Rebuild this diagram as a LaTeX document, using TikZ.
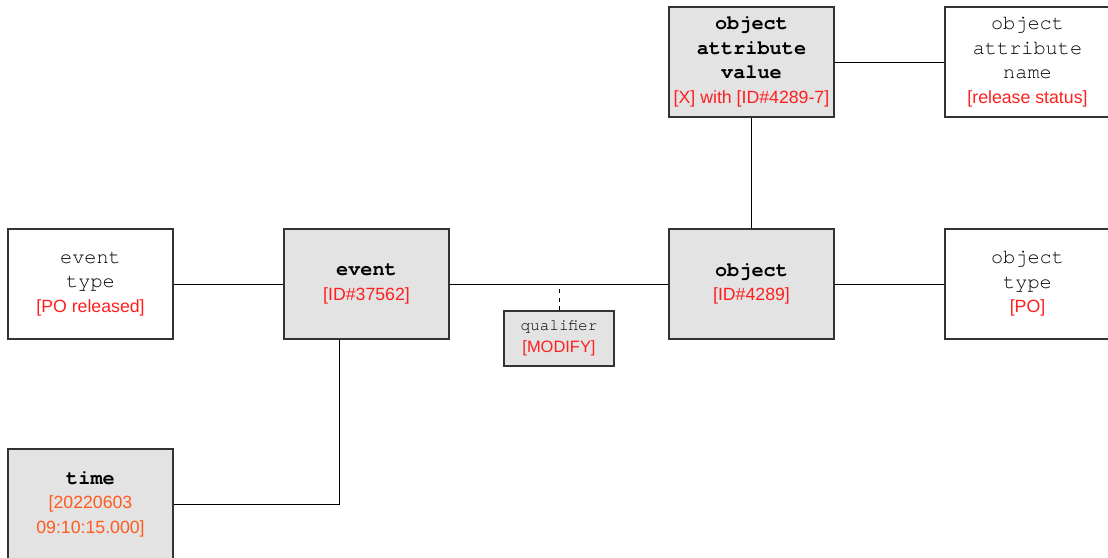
\documentclass[tikz,border=0pt]{standalone}
\usepackage{fontspec}
\setmainfont{Liberation Sans}
\setsansfont{Liberation Sans}
\setmonofont{TeX Gyre Cursor}
\usetikzlibrary{calc}
\definecolor{boxg}{HTML}{E3E3E3}
\definecolor{edgec}{HTML}{333333}
\definecolor{valr}{HTML}{FF1F1F}
\definecolor{timeo}{HTML}{FF5A1F}
\newcommand{\idtxt}[1]{{\sffamily\fontsize{12.6}{17.4}\selectfont\color{valr}#1}}
\newcommand{\tmtxt}[1]{{\sffamily\fontsize{12.6}{17.4}\selectfont\color{timeo}#1}}
\tikzset{
  ent/.style  ={draw=edgec,line width=0.9pt,minimum width=4.125cm,minimum height=2.75cm,
                inner sep=0pt,align=center,font=\fontsize{14.4}{17.4}\selectfont\ttfamily},
  core/.style ={ent,fill=boxg,text=black},
  attr/.style ={ent,fill=white,text=black},
  qual/.style ={draw=edgec,line width=0.9pt,fill=boxg,text=black,minimum width=2.75cm,
                minimum height=1.375cm,inner sep=0pt,align=center,
                font=\fontsize{11.4}{15.3}\selectfont\ttfamily},
  link/.style ={line width=0.7pt,black},
}
\begin{document}
\begin{tikzpicture}
  \useasboundingbox (0,0) rectangle (27.7,-13.95);
  % top row
  \node[core] (oval)  at (18.7875,-1.55) {\textbf{object}\\\textbf{attribute}\\\textbf{value}\\\idtxt{[X] with [ID\#4289-7]}};
  \node[attr] (oname) at (25.6875,-1.55) {object\\attribute\\name\\\idtxt{[release status]}};
  % middle row
  \node[attr] (etype) at (2.2625,-7.1) {event\\type\\\idtxt{[PO released]}};
  \node[core] (event) at (9.1625,-7.1) {\textbf{event}\\\idtxt{[ID\#37562]}};
  \node[core] (obj)   at (18.7875,-7.1) {\textbf{object}\\\idtxt{[ID\#4289]}};
  \node[attr] (otype) at (25.6875,-7.1) {object\\type\\\idtxt{[PO]}};
  \node[qual] (qual)  at (13.975,-8.4625) {qualifier\\{\sffamily\fontsize{11.7}{15.3}\selectfont\color{valr}[MODIFY]}};
  % bottom
  \node[core] (time)  at (2.2625,-12.6) {\textbf{time}\\\tmtxt{[20220603}\\\tmtxt{09:10:15.000]}};

  \coordinate (qjoin) at (qual.north |- event.east);
  \draw[link] (etype.east) -- (event.west);
  \draw[link] (event.east) -- (obj.west);
  \draw[link] (obj.east) -- (otype.west);
  \draw[link] (oval.east) -- (oname.west);
  \draw[link] (oval.south) -- (obj.north);
  \draw[link] (time.east) -| ([xshift=-6.875mm]event.south);
  \draw[link,dashed] (qual.north) -- (qjoin);
\end{tikzpicture}
\end{document}
